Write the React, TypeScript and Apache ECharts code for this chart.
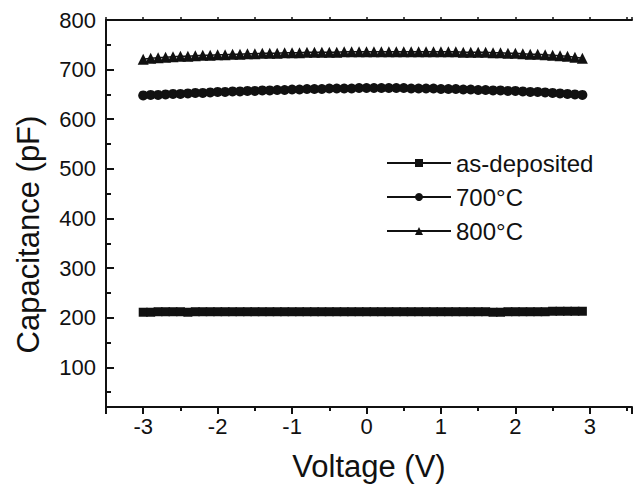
import React, { useEffect, useRef } from "react";
import * as echarts from "echarts";

const voltage = [
  -3.0, -2.9, -2.8, -2.7, -2.6, -2.5, -2.4, -2.3, -2.2, -2.1,
  -2.0, -1.9, -1.8, -1.7, -1.6, -1.5, -1.4, -1.3, -1.2, -1.1,
  -1.0, -0.9, -0.8, -0.7, -0.6, -0.5, -0.4, -0.3, -0.2, -0.1,
  0.0, 0.1, 0.2, 0.3, 0.4, 0.5, 0.6, 0.7, 0.8, 0.9,
  1.0, 1.1, 1.2, 1.3, 1.4, 1.5, 1.6, 1.7, 1.8, 1.9,
  2.0, 2.1, 2.2, 2.3, 2.4, 2.5, 2.6, 2.7, 2.8, 2.9,
];

const asDeposited = [
  211, 211, 212, 212, 212, 212, 211, 212, 212, 212,
  212, 212, 212, 212, 212, 212, 212, 212, 212, 212,
  212, 212, 212, 212, 212, 212, 212, 212, 212, 212,
  212, 212, 212, 212, 212, 212, 212, 212, 212, 212,
  212, 212, 212, 212, 212, 212, 212, 211, 211, 212,
  212, 212, 212, 212, 212, 213, 213, 213, 213, 213,
];

const c700 = [
  648, 649, 649, 650, 651, 651, 652, 653, 653, 654,
  655, 655, 656, 656, 657, 657, 658, 658, 659, 659,
  660, 660, 661, 661, 661, 662, 662, 662, 662, 663,
  663, 663, 663, 663, 663, 663, 662, 662, 662, 662,
  661, 661, 661, 660, 660, 659, 659, 658, 658, 657,
  657, 656, 655, 655, 654, 653, 652, 651, 650, 649,
];

const c800 = [
  721, 723, 724, 725, 726, 727, 727, 728, 729, 729,
  730, 730, 731, 731, 732, 732, 733, 733, 733, 734,
  734, 734, 735, 735, 735, 735, 735, 736, 736, 736,
  736, 736, 736, 736, 736, 736, 736, 736, 736, 736,
  736, 736, 736, 735, 735, 735, 735, 734, 734, 733,
  733, 732, 731, 731, 730, 729, 728, 727, 725, 723,
];

const seriesNames = ["as-deposited", "700°C", "800°C"];
const seriesSymbols = ["rect", "circle", "triangle"];

const FONT = "Liberation Sans, Arial, Helvetica, sans-serif";
const INK = "#111";

export default function App() {
  const ref = useRef<HTMLDivElement>(null);

  useEffect(() => {
    const chart = echarts.init(ref.current!, null, { renderer: "svg" });
    const xMin = -3.5;
    const xMax = 3.5667;
    const yMin = 20;
    const yMax = 800;
    const values = [asDeposited, c700, c800];
    const sizes = [9, 10, 11];

    chart.setOption({
      animation: false,
      backgroundColor: "#fff",
      textStyle: { fontFamily: FONT },
      grid: { left: 106, top: 20, width: 530, height: 388, containLabel: false },
      legend: {
        orient: "vertical",
        left: 381,
        top: 146,
        itemWidth: 64,
        itemHeight: 10,
        itemGap: 10,
        data: seriesNames,
        textStyle: { fontSize: 24, color: INK, fontFamily: FONT, padding: [0, 0, 0, 0] },
      },
      xAxis: [
        {
          type: "value",
          position: "bottom",
          min: xMin,
          max: xMax,
          splitNumber: 7,
          minInterval: 1,
          maxInterval: 1,
          axisLine: { show: true, onZero: false, lineStyle: { color: INK, width: 2 } },
          axisTick: { show: true, inside: false, length: 7, lineStyle: { color: INK, width: 2 } },
          axisLabel: {
            fontSize: 22,
            color: INK,
            fontFamily: FONT,
            margin: 8,
            formatter: (v: number) =>
              Math.abs(v - Math.round(v)) < 1e-6 && v >= -3 && v <= 3 ? String(Math.round(v)) : "",
          },
          splitLine: { show: false },
          name: "Voltage (V)",
          nameLocation: "middle",
          nameGap: 44,
          nameTextStyle: { fontSize: 31, color: INK, fontFamily: FONT },
        },
        {
          type: "value",
          position: "bottom",
          min: xMin,
          max: xMax,
          interval: 0.5,
          axisLine: { show: false, onZero: false },
          axisTick: { show: true, inside: false, length: 4, lineStyle: { color: INK, width: 2 } },
          axisLabel: { show: false },
          splitLine: { show: false },
        },
        {
          type: "value",
          position: "top",
          min: xMin,
          max: xMax,
          interval: 0.5,
          axisLine: { show: true, onZero: false, lineStyle: { color: INK, width: 2 } },
          axisTick: { show: true, inside: false, length: 3, lineStyle: { color: INK, width: 1.5 } },
          axisLabel: { show: false },
          splitLine: { show: false },
        },
      ],
      yAxis: [
        {
          type: "value",
          position: "left",
          min: yMin,
          max: yMax,
          splitNumber: 8,
          minInterval: 100,
          maxInterval: 100,
          axisLine: { show: true, onZero: false, lineStyle: { color: INK, width: 2 } },
          axisTick: { show: true, inside: true, length: 8, lineStyle: { color: INK, width: 2 } },
          axisLabel: {
            fontSize: 22,
            color: INK,
            fontFamily: FONT,
            margin: 10,
            formatter: (v: number) => (v % 100 === 0 ? String(v) : ""),
          },
          splitLine: { show: false },
          name: "Capacitance (pF)",
          nameLocation: "middle",
          nameGap: 62,
          nameRotate: 90,
          nameTextStyle: { fontSize: 31, color: INK, fontFamily: FONT, padding: [0, 42, 0, 0] },
        },
        {
          type: "value",
          position: "left",
          min: yMin,
          max: yMax,
          splitNumber: 16,
          minInterval: 50,
          maxInterval: 50,
          axisLine: { show: false, onZero: false },
          axisTick: { show: true, inside: true, length: 5, lineStyle: { color: INK, width: 2 } },
          axisLabel: { show: false },
          splitLine: { show: false },
        },
      ],
      series: seriesNames.map((name, k) => ({
        name,
        type: "line",
        xAxisIndex: 0,
        yAxisIndex: 0,
        symbol: seriesSymbols[k],
        symbolSize: sizes[k],
        showSymbol: true,
        showAllSymbol: true,
        itemStyle: { color: INK },
        lineStyle: { color: INK, width: 1.5 },
        data: voltage.map((v, i) => [v, values[k][i]]),
      })),
    });

    return () => chart.dispose();
  }, []);

  return (
    <div
      ref={ref}
      style={{ position: "fixed", left: 0, top: 0, width: 635, height: 487, background: "#fff" }}
    />
  );
}
